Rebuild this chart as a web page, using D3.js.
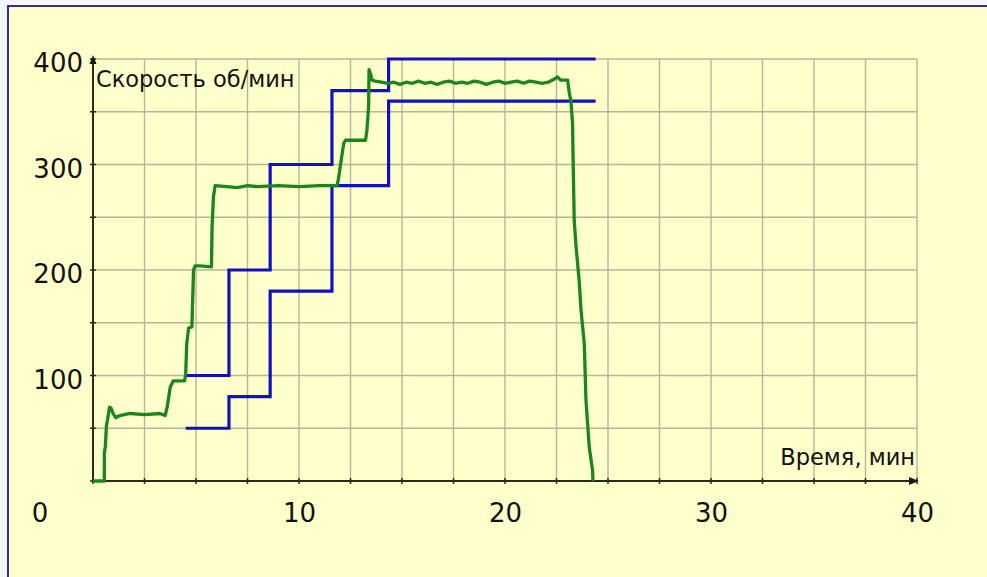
<!DOCTYPE html>
<html>
<head>
<meta charset="utf-8">
<script src="https://cdn.jsdelivr.net/npm/d3@7/dist/d3.min.js"></script>
<style>
  html, body { margin: 0; padding: 0; background: #f6f6ff; }
  svg { display: block; }
  text { font-family: "DejaVu Sans", Verdana, sans-serif; fill: #111; }
</style>
</head>
<body>
<svg id="chart" width="987" height="577"></svg>
<script>
// ---- data ----
const xTickLabels = [10, 20, 30, 40];
const yTickLabels = [100, 200, 300, 400];
const xLabel = "Время, мин";
const yLabel = "Скорость об/мин";

// measured speed (green)
const greenTime = [0, 0.55, 0.55, 0.6, 0.65, 0.72, 0.8, 0.88, 0.97, 1.1, 1.3, 1.8, 2.5, 3.25, 3.5, 3.6, 3.75, 3.9,
  4.45, 4.5, 4.55, 4.64, 4.8, 4.88, 4.96, 5.2, 5.75, 5.78, 5.85, 5.93,
  6.5, 7.0, 7.5, 8.0, 9.0, 10.0, 11.0, 11.85,
  11.93, 12.0, 12.17, 12.26, 13.23, 13.3, 13.38, 13.4, 13.47, 13.55,
  13.7, 14.0, 14.3, 14.6, 14.9, 15.2, 15.5, 15.8, 16.1, 16.4, 16.7, 17.0, 17.3, 17.6, 17.9, 18.2, 18.5, 18.8,
  19.1, 19.4, 19.7, 20.0, 20.3, 20.6, 20.9, 21.2, 21.5, 21.8, 22.1, 22.4, 22.55, 22.7, 23.04,
  23.12, 23.2, 23.28, 23.3, 23.36, 23.45, 23.6, 23.69, 23.85, 23.93, 24.09, 24.25, 24.27];
const greenSpeed = [0, 0, 26, 33, 52, 60, 70, 69, 64, 60, 62, 64, 63, 64, 62, 70, 89, 95,
  95, 102, 130, 145, 146, 200, 204, 204, 203, 241, 270, 280,
  279, 278, 280, 279, 280, 279, 280, 280,
  288, 298, 320, 323, 323, 333, 355, 390, 386, 380,
  379, 378, 377, 378, 376, 378, 377, 379, 377, 378, 376, 378, 379, 377, 378, 377, 379, 378,
  376, 378, 379, 377, 378, 379, 377, 379, 378, 377, 378, 381, 383, 380, 380,
  368, 360, 339, 311, 247, 222, 190, 162, 130, 77, 32, 10, 0];

// set-point steps (blue)
const stepTime = [4.5, 6.6, 8.6, 11.6, 14.35, 24.4];
const upperSpeed = [100, 200, 300, 370, 400, 400];
const lowerSpeed = [50, 80, 180, 280, 360, 360];

// ---- drawing ----
const svg = d3.select("#chart");

// panel with border (only top and left edges are visible in the frame)
svg.append("rect").attr("x", 8).attr("y", 6).attr("width", 1100).attr("height", 700)
  .attr("fill", "#ffffcc").attr("stroke", "#2f2f9a").attr("stroke-width", 2);

const x = d3.scaleLinear().domain([0, 40]).range([93, 917]);
const y = d3.scaleLinear().domain([0, 400]).range([481, 59]);

const gridX = d3.range(0, 40.01, 2.5);
const gridY = d3.range(0, 400.01, 50);

// grid
const grid = svg.append("g").attr("stroke", "#b8b49c").attr("stroke-width", 1.4);
grid.selectAll("line.gx").data(gridX).join("line")
  .attr("x1", d => x(d)).attr("x2", d => x(d)).attr("y1", y(0)).attr("y2", y(400));
grid.selectAll("line.gy").data(gridY).join("line")
  .attr("x1", x(0)).attr("x2", x(40)).attr("y1", d => y(d)).attr("y2", d => y(d));

// axis tick marks
const tickMarks = svg.append("g").attr("stroke", "#2a2a1a").attr("stroke-width", 1.5);
tickMarks.selectAll("line.tx").data(gridX).join("line")
  .attr("x1", d => x(d)).attr("x2", d => x(d)).attr("y1", y(0) - 3).attr("y2", y(0) + 3);
tickMarks.selectAll("line.ty").data(gridY).join("line")
  .attr("x1", x(0) - 3).attr("x2", x(0) + 3).attr("y1", d => y(d)).attr("y2", d => y(d));

// axis lines with arrows
svg.append("line").attr("x1", x(0)).attr("x2", x(40)).attr("y1", y(0)).attr("y2", y(0))
  .attr("stroke", "#2a2a1a").attr("stroke-width", 2);
svg.append("line").attr("x1", x(0)).attr("x2", x(0)).attr("y1", y(0)).attr("y2", y(400))
  .attr("stroke", "#2a2a1a").attr("stroke-width", 2);
svg.append("path").attr("d", `M${x(40) + 2},${y(0)} L${x(40) - 8},${y(0) - 4} L${x(40) - 8},${y(0) + 4} Z`)
  .attr("fill", "#1a1a1a");
svg.append("path").attr("d", `M${x(0)},${y(400) - 4} L${x(0) - 3.5},${y(400) + 5} L${x(0) + 3.5},${y(400) + 5} Z`)
  .attr("fill", "#1a1a1a");

// tick labels via axes
const xAxis = d3.axisBottom(x).tickValues(xTickLabels).tickSize(0).tickPadding(0).tickFormat(d3.format("d"));
const gx = svg.append("g").attr("transform", `translate(0,${y(0) + 41})`).call(xAxis);
gx.select(".domain").remove();
gx.selectAll("text").attr("font-size", 26).attr("dy", 0).attr("fill", "#111")
  .attr("font-family", "DejaVu Sans, sans-serif");

svg.append("text").attr("x", x(0) - 53).attr("y", y(0) + 41).attr("text-anchor", "middle")
  .attr("font-size", 26).text("0");

const yAxis = d3.axisLeft(y).tickValues(yTickLabels).tickSize(0).tickPadding(0).tickFormat(d3.format("d"));
const gy = svg.append("g").attr("transform", `translate(${x(0) - 10},0)`).call(yAxis);
gy.select(".domain").remove();
gy.selectAll("text").attr("font-size", 26).attr("dy", "0.38em").attr("fill", "#111")
  .attr("font-family", "DejaVu Sans, sans-serif").attr("y", 3);

// axis titles
svg.append("text").attr("x", x(0) + 3).attr("y", 87).attr("font-size", 22.5).text(yLabel);
svg.append("text").attr("x", x(40) - 2).attr("y", 465).attr("text-anchor", "end").attr("font-size", 22.5).text(xLabel);

// blue set-point steps
const stepLine = d3.line().x(d => x(d[0])).y(d => y(d[1])).curve(d3.curveStepAfter);
svg.append("path").datum(stepTime.map((t, i) => [t, lowerSpeed[i]]))
  .attr("d", stepLine).attr("fill", "none").attr("stroke", "#1010c4").attr("stroke-width", 3.2);
svg.append("path").datum(stepTime.map((t, i) => [t, upperSpeed[i]]))
  .attr("d", stepLine).attr("fill", "none").attr("stroke", "#1010c4").attr("stroke-width", 3.2);

// green measured speed
const gLine = d3.line().x(d => x(d[0])).y(d => y(d[1]));
svg.append("path").datum(greenTime.map((t, i) => [t, greenSpeed[i]]))
  .attr("d", gLine).attr("fill", "none").attr("stroke", "#1c861c").attr("stroke-width", 3.3)
  .attr("stroke-linejoin", "round");
</script>
</body>
</html>
